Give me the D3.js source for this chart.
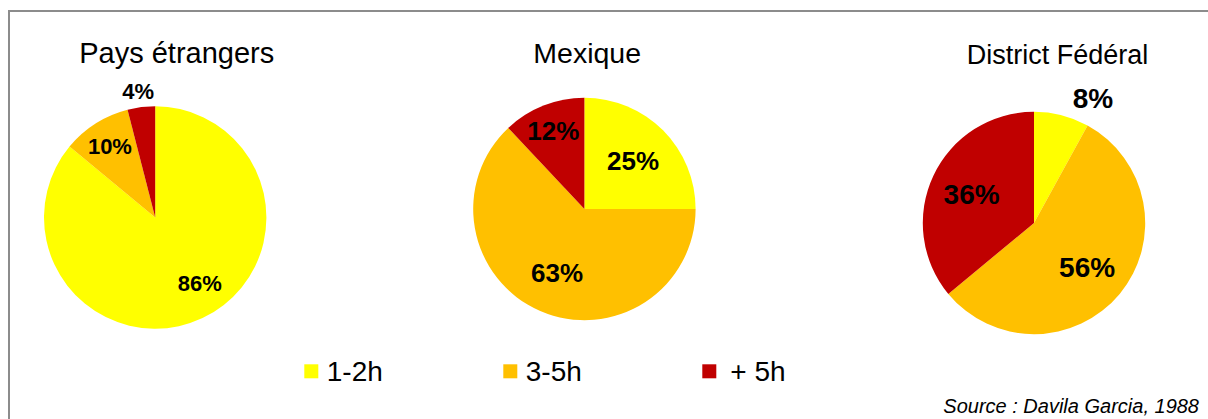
<!DOCTYPE html>
<html>
<head>
<meta charset="utf-8">
<script src="https://cdn.jsdelivr.net/npm/d3@7"></script>
<style>
  html, body { margin: 0; padding: 0; background: #fff; }
  svg { display: block; font-family: Arial, "Liberation Sans", sans-serif; }
</style>
</head>
<body>
<svg id="chart" width="1208" height="419"></svg>
<script>
// Travel time categories (legend order)
const categories = ["1-2h", "3-5h", "+ 5h"];
const categoryColors = ["#FFFF00", "#FFC000", "#C00000"];

// One pie per origin
const regions = ["Pays étrangers", "Mexique", "District Fédéral"];
const paysEtrangers = [86, 10, 4];
const mexique = [25, 63, 12];
const districtFederal = [8, 56, 36];
const sourceNote = "Source : Davila Garcia, 1988";

const series = [paysEtrangers, mexique, districtFederal];

const svg = d3.select("#chart");
const W = 1208, H = 419;

// frame (right and bottom edges fall outside the view)
svg.append("rect")
  .attr("x", 9).attr("y", 11)
  .attr("width", W + 20).attr("height", H + 20)
  .attr("fill", "none")
  .attr("stroke", "#8c8c8c")
  .attr("stroke-width", 2);

// panel layout: pie centre, title anchor and size, label size
const layout = [
  { cx: 155.2, cy: 217.5, titleX: 176.7, titleY: 62.7, titleSize: 29, labelSize: 22, innerK: 0.71 },
  { cx: 584.4, cy: 209.0, titleX: 587.2, titleY: 63.3, titleSize: 28.5, labelSize: 26, innerK: 0.62 },
  { cx: 1034.0, cy: 223.0, titleX: 1057.5, titleY: 64.3, titleSize: 27, labelSize: 28, innerK: 0.62 }
];
const R = 111.2;

const color = d3.scaleOrdinal().domain(categories).range(categoryColors);
const pie = d3.pie().sort(null).value(d => d.value);
const arc = d3.arc().innerRadius(0).outerRadius(R);

series.forEach((vals, i) => {
  const L = layout[i];
  const data = vals.map((v, j) => ({ category: categories[j], value: v }));
  const total = d3.sum(vals);
  const arcs = pie(data);

  const g = svg.append("g").attr("transform", `translate(${L.cx},${L.cy})`);

  g.selectAll("path.slice")
    .data(arcs)
    .join("path")
    .attr("class", "slice")
    .attr("d", arc)
    .attr("fill", d => color(d.data.category));

  // title
  svg.append("text")
    .attr("x", L.titleX).attr("y", L.titleY)
    .attr("text-anchor", "middle")
    .attr("font-size", L.titleSize)
    .attr("fill", "#000")
    .text(regions[i]);

  // percentage labels
  const fs = L.labelSize;
  arcs.forEach(a => {
    const share = a.data.value / total;
    const mid = (a.startAngle + a.endAngle) / 2;
    const s = Math.sin(mid), c = Math.cos(mid);
    const txt = d3.format(".0%")(share);
    let x, y;
    if (share < 0.09) {
      // small slice: label placed just outside the rim
      const pr = R + 8;
      const w = fs * (txt.length - 1) * 0.556 + fs * 0.889;
      const h = fs * 0.716;
      x = pr * s + s * w / 2 + (share > 0.06 ? w * 0.6 : 0);
      y = -pr * c - c * h / 2;
    } else {
      const k = share <= 0.12 ? 0.76 : L.innerK;
      // a dominant slice leans its label a little towards the slice start
      const lean = share > 0.8 ? -0.16 : 0;
      const m = mid + lean;
      x = R * k * Math.sin(m);
      y = -R * k * Math.cos(m);
    }
    g.append("text")
      .attr("x", x)
      .attr("y", y + fs * 0.36)
      .attr("text-anchor", "middle")
      .attr("font-size", fs)
      .attr("font-weight", "bold")
      .attr("fill", "#000")
      .text(txt);
  });
});

// legend
const legend = svg.append("g");
const legendX = d3.scaleOrdinal().domain(categories).range([304.3, 503.3, 702.3]);
categories.forEach((cat, j) => {
  const x0 = legendX(cat);
  legend.append("rect")
    .attr("x", x0).attr("y", 364.3)
    .attr("width", 14).attr("height", 14)
    .attr("fill", color(cat));
  legend.append("text")
    .attr("x", x0 + 22.5 + (cat.startsWith("+") ? 5.5 : 0))
    .attr("y", 381.3)
    .attr("font-size", 28)
    .attr("fill", "#000")
    .text(cat);
});

// source note
svg.append("text")
  .attr("x", 1199).attr("y", 413)
  .attr("text-anchor", "end")
  .attr("font-size", 20)
  .attr("font-style", "italic")
  .attr("fill", "#000")
  .text(sourceNote);
</script>
</body>
</html>
